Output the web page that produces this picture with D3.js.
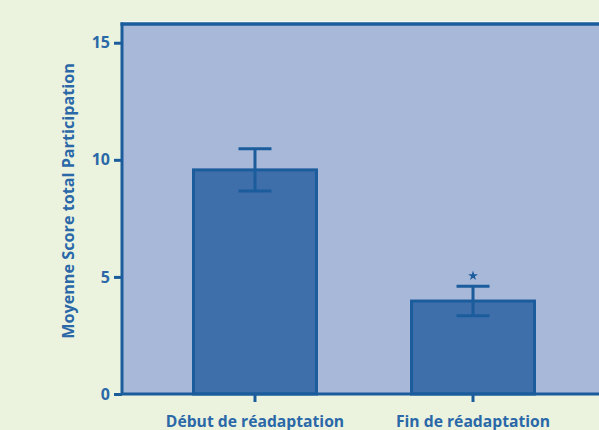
<!DOCTYPE html>
<html>
<head>
<meta charset="utf-8">
<script src="https://cdn.jsdelivr.net/npm/d3@7"></script>
<style>
  html, body { margin: 0; padding: 0; background: #ebf3df; }
  svg { display: block; }
  text { font-family: "Open Sans", "Noto Sans", sans-serif; font-weight: bold; fill: #2a68a8; }
</style>
</head>
<body>
<svg id="chart" width="599" height="430"></svg>
<script>
// Mean total participation score, start vs end of rehabilitation
const categories = ["Début de réadaptation", "Fin de réadaptation"];
const means = [9.57, 3.97];
const errors = [0.9, 0.63];
const significant = [false, true];
const yTicks = [0, 5, 10, 15];
const yTitle = "Moyenne Score total Participation";

const W = 599, H = 430;
const plotLeft = 122, plotTop = 24, plotBottom = 394;
const dark = "#1b5c9c";
const font = "'Open Sans', 'Noto Sans', sans-serif";

const svg = d3.select("#chart");

const x = d3.scaleBand().domain(categories).range([plotLeft, 606])
  .paddingInner(0.436).paddingOuter(0.328);
const y = d3.scaleLinear().domain([0, 15.8]).range([plotBottom, plotTop]);

// plot background
svg.append("rect").attr("x", plotLeft).attr("y", plotTop)
  .attr("width", W - plotLeft + 5).attr("height", plotBottom - plotTop)
  .attr("fill", "#a8b8d9");

// light rim above the top border
svg.append("line").attr("x1", plotLeft - 1).attr("x2", W)
  .attr("y1", plotTop - 2.5).attr("y2", plotTop - 2.5)
  .attr("stroke", "#f4f7fb").attr("stroke-width", 1);

// bars
svg.selectAll("rect.bar").data(categories).join("rect")
  .attr("class", "bar")
  .attr("x", d => x(d))
  .attr("y", (d, i) => y(means[i]))
  .attr("width", x.bandwidth())
  .attr("height", (d, i) => plotBottom - y(means[i]))
  .attr("fill", "#3e6fab")
  .attr("stroke", dark).attr("stroke-width", 3);

// error bars
const capHalf = 16.5;
const eb = svg.selectAll("g.err").data(categories).join("g").attr("class", "err");
eb.append("line")
  .attr("x1", d => x(d) + x.bandwidth() / 2).attr("x2", d => x(d) + x.bandwidth() / 2)
  .attr("y1", (d, i) => y(means[i] + errors[i])).attr("y2", (d, i) => y(means[i] - errors[i]))
  .attr("stroke", dark).attr("stroke-width", 3);
eb.append("line")
  .attr("x1", d => x(d) + x.bandwidth() / 2 - capHalf).attr("x2", d => x(d) + x.bandwidth() / 2 + capHalf)
  .attr("y1", (d, i) => y(means[i] + errors[i])).attr("y2", (d, i) => y(means[i] + errors[i]))
  .attr("stroke", dark).attr("stroke-width", 3);
eb.append("line")
  .attr("x1", d => x(d) + x.bandwidth() / 2 - capHalf).attr("x2", d => x(d) + x.bandwidth() / 2 + capHalf)
  .attr("y1", (d, i) => y(means[i] - errors[i])).attr("y2", (d, i) => y(means[i] - errors[i]))
  .attr("stroke", dark).attr("stroke-width", 3);

// significance marker
svg.selectAll("path.sig").data(categories.filter((d, i) => significant[i])).join("path")
  .attr("class", "sig")
  .attr("d", d3.symbol().type(d3.symbolStar).size(30))
  .attr("transform", d => {
    const i = categories.indexOf(d);
    return `translate(${x(d) + x.bandwidth() / 2},${y(means[i] + errors[i]) - 10.5})`;
  })
  .attr("fill", dark);

// top frame
svg.append("line").attr("x1", plotLeft - 1.5).attr("x2", W)
  .attr("y1", plotTop).attr("y2", plotTop).attr("stroke", dark).attr("stroke-width", 3.5);

// y axis
const yAxis = svg.append("g").attr("transform", `translate(${plotLeft},0)`)
  .call(d3.axisLeft(y).tickValues(yTicks).tickSize(8).tickPadding(4));
yAxis.select(".domain").attr("stroke", dark).attr("stroke-width", 3)
  .attr("d", `M0,${plotTop - 1.5}V${plotBottom}`);
yAxis.selectAll(".tick line").attr("stroke", dark).attr("stroke-width", 3);
yAxis.selectAll(".tick text").attr("fill", "#2a68a8")
  .style("font-size", "16px").style("font-family", font).style("font-weight", "bold");

// x axis
const xAxis = svg.append("g").attr("transform", `translate(0,${plotBottom})`)
  .call(d3.axisBottom(x).tickSize(8).tickPadding(14.3));
xAxis.select(".domain").attr("stroke", dark).attr("stroke-width", 3)
  .attr("d", `M${plotLeft},0H${W}`);
xAxis.selectAll(".tick line").attr("stroke", dark).attr("stroke-width", 3);
xAxis.selectAll(".tick text").attr("fill", "#2a68a8")
  .style("font-size", "15.7px").style("font-family", font).style("font-weight", "bold");

// y axis title
svg.append("text")
  .attr("transform", `translate(73.5,${(plotTop + plotBottom) / 2 - 8}) rotate(-90)`)
  .attr("text-anchor", "middle")
  .style("font-size", "16.2px")
  .text(yTitle);
</script>
</body>
</html>
